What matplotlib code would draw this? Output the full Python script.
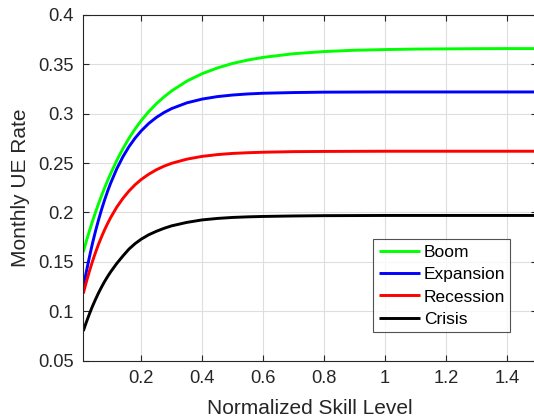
import numpy as np
import matplotlib
matplotlib.use('Agg')
import matplotlib.pyplot as plt

# skill grid and UE rates
skill = [0.01, 0.015, 0.02, 0.03, 0.04, 0.05, 0.06, 0.07, 0.08, 0.09, 0.1,
         0.12, 0.14, 0.16, 0.18, 0.2, 0.225, 0.25, 0.275, 0.3, 0.35, 0.4,
         0.45, 0.5, 0.55, 0.6, 0.7, 0.8, 0.9, 1.0, 1.1, 1.2, 1.3, 1.4, 1.5]
boom = [0.160, 0.1656, 0.1710, 0.1812, 0.1910, 0.2002, 0.2089, 0.2171,
        0.2250, 0.2325, 0.2395, 0.2528, 0.2646, 0.2752, 0.2846, 0.2930,
        0.3022, 0.3102, 0.3170, 0.3231, 0.3330, 0.3405, 0.3463, 0.3509,
        0.3543, 0.3570, 0.3607, 0.3629, 0.3642, 0.3649, 0.3654, 0.3656,
        0.3658, 0.3659, 0.3659]
expansion = [0.124, 0.1322, 0.1401, 0.1549, 0.1686, 0.1811, 0.1925, 0.2031,
             0.2128, 0.2217, 0.2299, 0.2443, 0.2564, 0.2667, 0.2753, 0.2826,
             0.2902, 0.2963, 0.3012, 0.3052, 0.3110, 0.3148, 0.3173, 0.3189,
             0.3200, 0.3207, 0.3214, 0.3218, 0.3219, 0.3220, 0.3220, 0.3220,
             0.3220, 0.3220, 0.3220]
recession = [0.118, 0.1240, 0.1297, 0.1405, 0.1504, 0.1595, 0.1679, 0.1755,
             0.1826, 0.1890, 0.1950, 0.2055, 0.2143, 0.2218, 0.2281, 0.2334,
             0.2388, 0.2433, 0.2469, 0.2498, 0.2540, 0.2568, 0.2586, 0.2598,
             0.2605, 0.2610, 0.2616, 0.2618, 0.2619, 0.2620, 0.2620, 0.2620,
             0.2620, 0.2620, 0.2620]
crisis = [0.080, 0.0846, 0.0890, 0.0973, 0.1050, 0.1120, 0.1186, 0.1246,
          0.1302, 0.1353, 0.1400, 0.1485, 0.1560, 0.1630, 0.1685, 0.1730,
          0.1775, 0.1810, 0.1840, 0.1865, 0.1900, 0.1925, 0.1940, 0.1950,
          0.1956, 0.1960, 0.1965, 0.1968, 0.1969, 0.1970, 0.1970, 0.1970,
          0.1970, 0.1970, 0.1970]

series = [('Boom', boom, '#00ff00'),
          ('Expansion', expansion, '#0000ff'),
          ('Recession', recession, '#ff0000'),
          ('Crisis', crisis, '#000000')]

xticks = [0.2, 0.4, 0.6, 0.8, 1.0, 1.2, 1.4]
xticklabels = ['0.2', '0.4', '0.6', '0.8', '1', '1.2', '1.4']
yticks = [0.05, 0.1, 0.15, 0.2, 0.25, 0.3, 0.35, 0.4]
yticklabels = ['0.05', '0.1', '0.15', '0.2', '0.25', '0.3', '0.35', '0.4']

plt.rcParams['font.family'] = ['Liberation Sans', 'DejaVu Sans']
dark = '#262626'

fig = plt.figure(figsize=(5.34, 4.19), dpi=100)
ax = fig.add_axes([83.3 / 534, 1 - 360.7 / 419, 454 / 534, 345.8 / 419])

for name, vals, col in series:
    ax.plot(skill, vals, color=col, linewidth=2.1, label=name,
            solid_capstyle='butt', solid_joinstyle='round')

ax.set_xlim(0.01, 1.5)
ax.set_ylim(0.05, 0.4)
ax.set_xticks(xticks)
ax.set_xticklabels(xticklabels)
ax.set_yticks(yticks)
ax.set_yticklabels(yticklabels)
ax.grid(True, color='#dedede', linewidth=0.8)
ax.set_axisbelow(True)
ax.tick_params(direction='in', top=True, right=True, length=4, width=0.8,
               colors=dark, labelsize=13.2, pad=7)
for sp in ax.spines.values():
    sp.set_color(dark)
    sp.set_linewidth(0.8)

ax.set_xlabel('Normalized Skill Level', fontsize=15, color=dark, labelpad=8)
ax.set_ylabel('Monthly UE Rate', fontsize=15, color=dark, labelpad=6)

leg = ax.legend(loc='upper left', bbox_to_anchor=(373.3 / 534, 1 - 239.3 / 419),
                bbox_transform=fig.transFigure, fontsize=12.5, frameon=True,
                fancybox=False, edgecolor=dark, borderaxespad=0,
                borderpad=0.3, labelspacing=0.42, handlelength=2.4,
                handletextpad=0.2)
leg.get_frame().set_linewidth(0.8)
for t in leg.get_texts():
    t.set_color('black')

fig.savefig('out.png', dpi=100)
